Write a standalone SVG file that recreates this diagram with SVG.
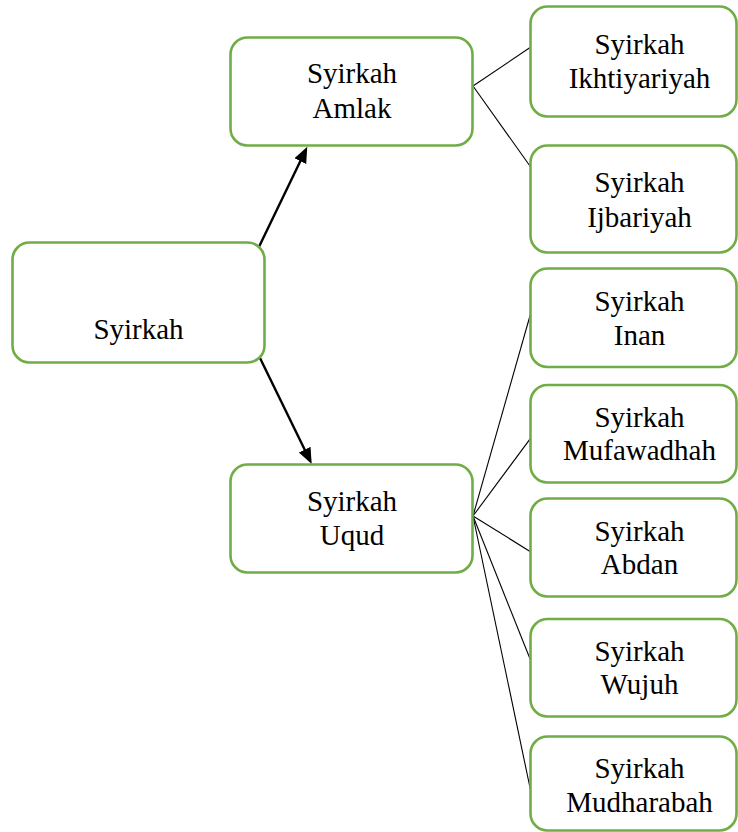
<svg xmlns="http://www.w3.org/2000/svg" width="738" height="832" viewBox="0 0 738 832">
<style>
.box{fill:#ffffff;stroke:#70AD47;stroke-width:2.6}
.t{font-family:"Liberation Serif","Times New Roman",serif;font-size:29px;fill:#000000;text-anchor:middle}
.thin{stroke:#000000;stroke-width:1.1;fill:none}
.arr{stroke:#000000;stroke-width:2.4;fill:none;marker-end:url(#ah)}
</style>
<defs>
<marker id="ah" markerUnits="userSpaceOnUse" markerWidth="18" markerHeight="14" refX="11" refY="6.5" orient="auto">
<path d="M0,0 L16,6.5 L0,13 Z" fill="#000000"/>
</marker>
</defs>
<rect width="738" height="832" fill="#ffffff"/>
<g id="connectors">
<line class="arr" x1="258.3" y1="248.3" x2="305.1" y2="151.2"/>
<line class="arr" x1="259" y1="356" x2="309.5" y2="459.5"/>
<line class="thin" x1="473" y1="86" x2="530.5" y2="47.3"/>
<line class="thin" x1="473" y1="86" x2="530.5" y2="166.7"/>
<line class="thin" x1="473" y1="516" x2="530.5" y2="314"/>
<line class="thin" x1="473" y1="516" x2="530.5" y2="438.3"/>
<line class="thin" x1="473" y1="516" x2="530.5" y2="551.7"/>
<line class="thin" x1="473" y1="516" x2="530.5" y2="660"/>
<line class="thin" x1="473" y1="516" x2="530.5" y2="790"/>
</g>
<g id="syirkah">
<rect class="box" x="12.5" y="242.5" width="252" height="120" rx="17"/>
<text class="t" x="138.5" y="339.3">Syirkah</text>
</g>
<g id="amlak">
<rect class="box" x="230.5" y="37.5" width="242" height="108" rx="17"/>
<text class="t" x="352" y="83.3">Syirkah</text>
<text class="t" x="352" y="118.3">Amlak</text>
</g>
<g id="uqud">
<rect class="box" x="230.5" y="464.5" width="242" height="108" rx="17"/>
<text class="t" x="352" y="510.7">Syirkah</text>
<text class="t" x="352" y="545">Uqud</text>
</g>
<g id="ikhtiyariyah">
<rect class="box" x="530.5" y="6.5" width="206" height="110" rx="17"/>
<text class="t" x="639.5" y="53.5">Syirkah</text>
<text class="t" x="639.5" y="88">Ikhtiyariyah</text>
</g>
<g id="ijbariyah">
<rect class="box" x="530.5" y="145.5" width="206" height="107" rx="17"/>
<text class="t" x="639.5" y="192.3">Syirkah</text>
<text class="t" x="639.5" y="226.7">Ijbariyah</text>
</g>
<g id="inan">
<rect class="box" x="530.5" y="268.5" width="206" height="98.5" rx="17"/>
<text class="t" x="639.5" y="311">Syirkah</text>
<text class="t" x="639.5" y="345">Inan</text>
</g>
<g id="mufawadhah">
<rect class="box" x="530.5" y="385" width="206" height="97.5" rx="17"/>
<text class="t" x="639.5" y="426.7">Syirkah</text>
<text class="t" x="639.5" y="460">Mufawadhah</text>
</g>
<g id="abdan">
<rect class="box" x="530.5" y="498.5" width="206" height="98" rx="17"/>
<text class="t" x="639.5" y="541">Syirkah</text>
<text class="t" x="639.5" y="574">Abdan</text>
</g>
<g id="wujuh">
<rect class="box" x="530.5" y="619" width="206" height="97.5" rx="17"/>
<text class="t" x="639.5" y="660.7">Syirkah</text>
<text class="t" x="639.5" y="694">Wujuh</text>
</g>
<g id="mudharabah">
<rect class="box" x="530.5" y="736.5" width="206" height="94" rx="17"/>
<text class="t" x="639.5" y="778.3">Syirkah</text>
<text class="t" x="639.5" y="811.7">Mudharabah</text>
</g>
</svg>
